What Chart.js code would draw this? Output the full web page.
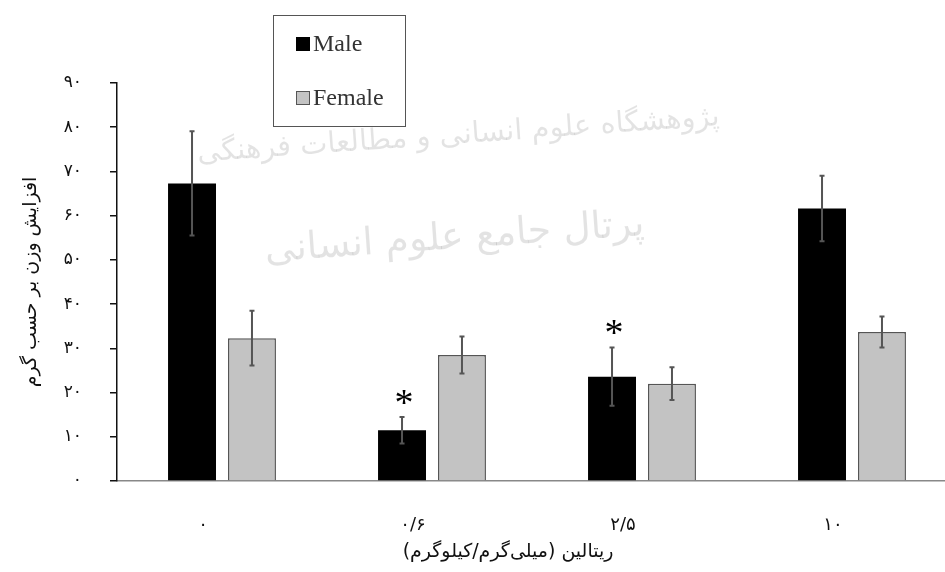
<!DOCTYPE html>
<html>
<head>
<meta charset="utf-8">
<script src="https://cdn.jsdelivr.net/npm/chart.js@4"></script>
<style>
  html, body { margin: 0; padding: 0; background: #fff; overflow: hidden; }
  #wrap { width: 960px; height: 572px; position: relative; }
</style>
</head>
<body>
<div id="wrap"><canvas id="chart"></canvas></div>
<script>
// data
const doses = ['۰', '۰/۶', '۲/۵', '۱۰'];
const maleMeans = [67.3, 11.5, 23.6, 61.6];
const maleErr = [11.8, 3.0, 6.6, 7.4];
const femaleMeans = [32.3, 28.5, 22.0, 33.7];
const femaleErr = [6.2, 4.2, 3.7, 3.5];
const significant = [false, true, true, false]; // asterisk over male bar
const yTicks = [0, 10, 20, 30, 40, 50, 60, 70, 80, 90];

const faFont = "'DejaVu Sans', sans-serif";
const persianDigits = '۰۱۲۳۴۵۶۷۸۹';
function toPersian(n) {
  return String(n).replace(/[0-9]/g, d => persianDigits[d]);
}

// faint watermark behind the bars
const watermark = {
  id: 'watermark',
  beforeDatasetsDraw(chart) {
    const ctx = chart.ctx;
    ctx.save();
    ctx.fillStyle = 'rgba(0,0,0,0.11)';
    ctx.textAlign = 'right';
    ctx.textBaseline = 'alphabetic';
    ctx.translate(720, 125);
    ctx.rotate(-0.07);
    ctx.font = '29px ' + faFont;
    ctx.fillText('پژوهشگاه علوم انسانی و مطالعات فرهنگی', 0, 0);
    ctx.restore();
    ctx.save();
    ctx.fillStyle = 'rgba(0,0,0,0.11)';
    ctx.textAlign = 'right';
    ctx.translate(645, 235);
    ctx.rotate(-0.07);
    ctx.font = '38px ' + faFont;
    ctx.fillText('پرتال جامع علوم انسانی', 0, 0);
    ctx.restore();
  }
};

// error bars, asterisks, legend box and x title
const extras = {
  id: 'extras',
  afterDatasetsDraw(chart) {
    const ctx = chart.ctx;
    const y = chart.scales.y;
    const errs = [maleErr, femaleErr];
    ctx.save();
    ctx.strokeStyle = '#555';
    ctx.lineWidth = 2;
    chart.data.datasets.forEach((ds, di) => {
      chart.getDatasetMeta(di).data.forEach((bar, i) => {
        const v = ds.data[i];
        const top = y.getPixelForValue(v + errs[di][i]);
        const bot = y.getPixelForValue(v - errs[di][i]);
        ctx.beginPath();
        ctx.moveTo(bar.x, top); ctx.lineTo(bar.x, bot);
        ctx.moveTo(bar.x - 2.5, top); ctx.lineTo(bar.x + 2.5, top);
        ctx.moveTo(bar.x - 2.5, bot); ctx.lineTo(bar.x + 2.5, bot);
        ctx.stroke();
        if (di === 0 && significant[i]) {
          ctx.fillStyle = '#000';
          ctx.font = '38px "Liberation Serif", serif';
          ctx.textAlign = 'center';
          ctx.textBaseline = 'middle';
          ctx.fillText('*', bar.x + 2, top - 12);
        }
      });
    });
    ctx.restore();
  },
  afterDraw(chart) {
    const ctx = chart.ctx;
    ctx.save();
    // legend
    ctx.fillStyle = 'rgba(255,255,255,0.6)';
    ctx.fillRect(273, 15, 132, 111);
    ctx.strokeStyle = '#555';
    ctx.lineWidth = 1;
    ctx.strokeRect(273.5, 15.5, 132, 111);
    const items = chart.data.datasets;
    const rows = [44, 98];
    items.forEach((ds, i) => {
      ctx.fillStyle = ds.backgroundColor;
      ctx.fillRect(296, rows[i] - 7, 14, 14);
      if (i === 1) {
        ctx.strokeStyle = '#555';
        ctx.strokeRect(296.5, rows[i] - 6.5, 13, 13);
      }
      ctx.fillStyle = '#333';
      ctx.font = '24px "Liberation Serif", serif';
      ctx.textAlign = 'left';
      ctx.textBaseline = 'middle';
      ctx.fillText(ds.label, 313, rows[i] + 1);
    });
    // x axis title
    ctx.fillStyle = '#111';
    ctx.font = '19px ' + faFont;
    ctx.textAlign = 'center';
    ctx.textBaseline = 'middle';
    ctx.direction = 'rtl';
    ctx.fillText('ریتالین (میلی‌گرم/کیلوگرم)', 508, 552);
    ctx.restore();
  }
};

new Chart(document.getElementById('chart'), {
  type: 'bar',
  data: {
    labels: doses,
    datasets: [{
      label: 'Male',
      data: maleMeans,
      backgroundColor: '#000000',
      borderColor: '#000000',
      borderWidth: 0
    }, {
      label: 'Female',
      data: femaleMeans,
      backgroundColor: '#c3c3c3',
      borderColor: '#555555',
      borderWidth: 1.5
    }]
  },
  options: {
    responsive: true,
    maintainAspectRatio: false,
    animation: false,
    categoryPercentage: 0.571,
    barPercentage: 0.8,
    layout: { padding: { top: 83, right: 3, left: 0, bottom: 0 } },
    plugins: {
      legend: { display: false },
      tooltip: { enabled: false }
    },
    scales: {
      x: {
        grid: { display: false },
        border: { display: true, color: '#888', width: 1.5 },
        ticks: {
          color: '#111',
          font: { family: faFont, size: 18 },
          padding: 26,
          labelOffset: -19,
          maxRotation: 0
        },
        afterFit(scale) { scale.height = 91; }
      },
      y: {
        min: 0,
        max: 90,
        afterBuildTicks(scale) { scale.ticks = yTicks.map(v => ({ value: v })); },
        grid: { display: true, drawOnChartArea: false, tickLength: 7, color: '#111', lineWidth: 1.5 },
        border: { display: true, color: '#111', width: 1.5 },
        ticks: {
          color: '#111',
          font: { family: faFont, size: 17 },
          padding: 28,
          callback: v => toPersian(v)
        },
        title: {
          display: true,
          text: 'افزایش وزن بر حسب گرم',
          color: '#111',
          font: { family: faFont, size: 19 },
          padding: { top: 20, bottom: 8 }
        },
        afterFit(scale) { scale.width = 117; }
      }
    }
  },
  plugins: [watermark, extras]
});
</script>
</body>
</html>
